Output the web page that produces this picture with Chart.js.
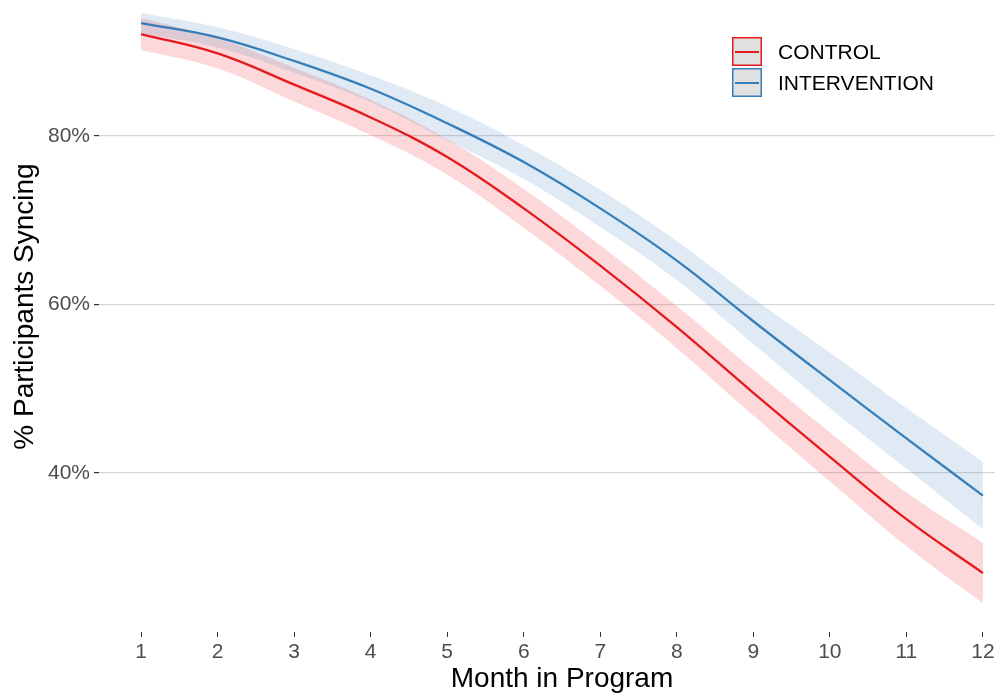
<!DOCTYPE html>
<html>
<head>
<meta charset="utf-8">
<script src="https://cdn.jsdelivr.net/npm/chart.js@4.4.1/dist/chart.umd.min.js"></script>
<style>
  html, body { margin: 0; padding: 0; background: #fff; overflow: hidden; }
  #wrap { width: 995px; height: 693px; overflow: hidden; position: relative; }
  /* the plot panel runs a little past the top and right edges, as in the source figure */
  #wrap canvas { position: absolute; left: 0; top: -19px; }
</style>
</head>
<body>
<div id="wrap"><canvas id="sync_chart" width="1025" height="712"></canvas></div>
<script>
var months = [1, 2, 3, 4, 5, 6, 7, 8, 9, 10, 11, 12];
var yTicks = [40, 60, 80];

var seriesNames = ["CONTROL", "INTERVENTION"];

// fitted % syncing per month, with the confidence band around it
var control      = [92.1, 89.8, 86.1, 82.2, 77.5, 71.4, 64.6, 57.3, 49.5, 41.9, 34.5, 28.1];
var controlLow   = [90.2, 88.0, 84.1, 80.1, 75.4, 69.1, 62.2, 54.8, 46.8, 39.0, 31.3, 24.5];
var controlHigh  = [94.0, 91.6, 88.1, 84.3, 79.6, 73.7, 67.0, 59.8, 52.2, 44.8, 37.7, 31.7];

var intervention     = [93.4, 91.7, 88.9, 85.6, 81.5, 76.9, 71.4, 65.2, 58.0, 51.0, 44.1, 37.3];
var interventionLow  = [92.2, 90.5, 87.5, 84.0, 79.5, 74.9, 69.2, 62.9, 55.3, 47.7, 40.5, 33.3];
var interventionHigh = [94.6, 92.9, 90.3, 87.2, 83.5, 78.9, 73.6, 67.5, 60.7, 54.3, 47.7, 41.3];

var RED = "#E41A1C";
var BLUE = "#377EB8";
var FONT = "'Liberation Sans', Arial, sans-serif";

function pts(arr) {
  return months.map(function (m, i) { return { x: m, y: arr[i] }; });
}

function bandEdge(arr, order) {
  return {
    data: pts(arr),
    borderWidth: 0,
    pointRadius: 0,
    fill: false,
    tension: 0.4,
    order: order
  };
}

var boxLegend = {
  id: 'boxLegend',
  afterDraw: function (chart) {
    var ctx = chart.ctx;
    var colors = [RED, BLUE];
    seriesNames.forEach(function (name, i) {
      var x = 732, y = 56 + i * 31;
      ctx.save();
      ctx.fillStyle = "#e0e0e0";
      ctx.fillRect(x, y, 30, 29);
      ctx.strokeStyle = colors[i];
      ctx.lineWidth = 1.5;
      ctx.strokeRect(x + 0.75, y + 0.75, 28.5, 27.5);
      ctx.beginPath();
      ctx.moveTo(x + 3, y + 15);
      ctx.lineTo(x + 27, y + 15);
      ctx.lineWidth = 2;
      ctx.stroke();
      ctx.fillStyle = "#000";
      ctx.font = "21px " + FONT;
      ctx.textBaseline = "middle";
      ctx.fillText(name, 778, y + 16);
      ctx.restore();
    });
  }
};

var ctx = document.getElementById("sync_chart");

var myChart = new Chart(ctx, {
  type: 'line',
  plugins: [boxLegend],
  data: {
    datasets: [
      {
        label: seriesNames[0],
        data: pts(control),
        borderColor: RED,
        borderWidth: 2.3,
        pointRadius: 0,
        fill: false,
        tension: 0.4,
        order: 0
      },
      {
        label: seriesNames[1],
        data: pts(intervention),
        borderColor: BLUE,
        borderWidth: 2.3,
        pointRadius: 0,
        fill: false,
        tension: 0.4,
        order: 0
      },
      bandEdge(controlLow, 2),
      Object.assign(bandEdge(controlHigh, 2), { fill: 2, backgroundColor: "rgba(240, 60, 70, 0.2)" }),
      bandEdge(interventionLow, 1),
      Object.assign(bandEdge(interventionHigh, 1), { fill: 4, backgroundColor: "rgba(55, 126, 184, 0.16)" })
    ]
  },
  options: {
    responsive: false,
    animation: false,
    layout: { padding: 0 },
    plugins: {
      legend: { display: false },
      tooltip: { enabled: false }
    },
    scales: {
      x: {
        type: 'linear',
        min: 0.45,
        max: 12.55,
        afterBuildTicks: function (axis) {
          axis.ticks = months.map(function (m) { return { value: m }; });
        },
        afterFit: function (scale) { scale.height = 61; },
        border: { display: false },
        grid: {
          drawOnChartArea: false,
          drawTicks: true,
          tickLength: 5,
          tickColor: "#333"
        },
        ticks: {
          color: "#4d4d4d",
          padding: 3,
          font: { family: FONT, size: 21 }
        },
        title: {
          display: true,
          text: "Month in Program",
          color: "#000",
          padding: 0,
          font: { family: FONT, size: 28, lineHeight: 1.0 }
        }
      },
      y: {
        min: 21.1,
        max: 98.4,
        afterBuildTicks: function (axis) {
          axis.ticks = yTicks.map(function (v) { return { value: v }; });
        },
        afterFit: function (scale) {
          scale.width = 99;
          scale.paddingTop = 0;
          scale.paddingBottom = 0;
        },
        border: { display: false },
        grid: {
          color: "#d6d6d6",
          lineWidth: 1.2,
          tickLength: 5,
          tickColor: "#333"
        },
        ticks: {
          color: "#4d4d4d",
          padding: 4,
          font: { family: FONT, size: 21 },
          callback: function (v) { return v + "%"; }
        },
        title: {
          display: true,
          text: "% Participants Syncing",
          color: "#000",
          padding: { top: 8, bottom: 0 },
          font: { family: FONT, size: 28 }
        }
      }
    }
  }
});
</script>
</body>
</html>
